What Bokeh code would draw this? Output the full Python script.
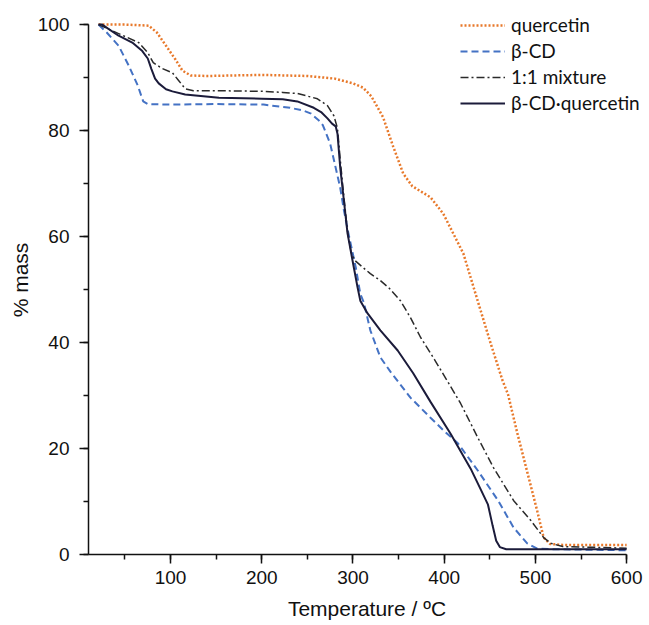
from bokeh.plotting import figure
from bokeh.models import Legend, LegendItem, SingleIntervalTicker, Range1d
from bokeh.embed import file_html
from bokeh.resources import INLINE

# ---- data ----
quercetin_T = [21, 50, 76, 85, 95, 105, 113, 122, 140, 200, 250, 280, 300, 311, 320, 333,
               344, 355, 365, 385, 399, 421, 440, 451, 464, 470, 480, 491, 502, 509, 516, 530, 600]
quercetin_mass = [100, 100, 99.8, 98.5, 96, 93.5, 91.3, 90.4, 90.3, 90.5, 90.3, 89.8, 88.9, 88.1, 86.5, 82.5,
                  77, 71.9, 69.5, 67.4, 64.3, 56.8, 46, 39.8, 32.8, 30.2, 23, 15.6, 8.2, 3.2, 2.0, 1.8, 1.8]

bcd_T = [21, 30, 43, 54, 64, 70, 75, 100, 150, 202, 231, 245, 254, 262, 267, 275, 281, 286, 290,
         295, 303, 308, 312, 319, 330, 341, 363, 385, 400, 415, 437, 459, 476, 491, 502, 520, 600]
bcd_mass = [100, 98.5, 96, 92.3, 88.5, 85.5, 85.0, 84.9, 85.0, 84.9, 84.3, 83.8, 83.2, 82, 81, 77.5, 73, 69.2, 65,
            60.6, 54.2, 49.2, 47.5, 42.3, 37.2, 34.5, 29.6, 25.8, 23.3, 21, 15.8, 10.2, 5.1, 2.1, 1.1, 1.0, 0.8]

mix_T = [21, 43, 65, 75, 81, 91, 102, 109, 116, 125, 160, 202, 223, 239, 261, 272, 279, 283, 286, 290,
         294, 298, 302, 310, 319, 330, 340, 352, 363, 374, 390, 405, 418, 437, 454, 476, 495, 509, 517, 530, 600]
mix_mass = [100, 98.3, 96.6, 94.7, 92.8, 91.7, 90.9, 89.4, 87.9, 87.5, 87.5, 87.4, 87.2, 87, 86, 84.7, 82.8, 80.4, 74.5, 67.5,
            61, 57, 55.5, 54.3, 53, 51.7, 50.2, 47.9, 44.7, 41, 36.6, 32.3, 28.5, 22, 16.4, 10.2, 6.4, 3.2, 2.1, 1.5, 1.2]

complex_T = [21, 25, 43, 58, 69, 75, 79, 83, 87, 95, 102, 116, 153, 200, 223, 239, 257, 265, 272, 277, 281, 283, 286,
             290, 294, 300, 305, 308, 316, 330, 349, 366, 385, 407, 429, 440, 448, 453, 457, 461, 468, 600]
complex_mass = [100, 100, 97.9, 96.6, 95, 93.6, 91.6, 89.8, 88.9, 87.8, 87.4, 86.8, 86.2, 86.0, 85.9, 85.5, 84.3, 83.5, 82.3, 81.3, 80.8, 79.4, 73,
                66.8, 60.6, 55, 50.4, 47.9, 45.5, 42.3, 38.5, 34.2, 28.8, 22.8, 16.2, 12.3, 9.4, 5.5, 2.6, 1.4, 1.0, 1.0]

labels = ["quercetin", "\u03b2-CD", "1:1 mixture", "\u03b2-CD\u00b7quercetin"]

# ---- figure ----
W, H = 645, 622
p = figure(width=W, height=H, output_backend="svg", toolbar_location=None,
           x_range=Range1d(10, 620.7), y_range=Range1d(0, 103.6),
           min_border_left=88, min_border_top=5, min_border_right=0, min_border_bottom=68)
p.outline_line_color = None
p.grid.visible = False
p.background_fill_color = "white"
p.border_fill_color = "white"

p.xaxis.ticker = SingleIntervalTicker(interval=100, num_minor_ticks=2)
p.yaxis.ticker = SingleIntervalTicker(interval=20, num_minor_ticks=2)
p.xaxis.bounds = (10, 600)
p.yaxis.bounds = (0, 100)

for ax in (p.xaxis, p.yaxis):
    ax.axis_line_color = "#111111"
    ax.axis_line_width = 1.5
    ax.major_tick_line_color = "#111111"
    ax.major_tick_line_width = 1.5
    ax.minor_tick_line_color = "#111111"
    ax.minor_tick_line_width = 1.5
    ax.major_tick_in = 0
    ax.major_tick_out = 9
    ax.minor_tick_in = 0
    ax.minor_tick_out = 5
    ax.major_label_text_font = "Liberation Sans"
    ax.major_label_text_font_size = "19px"
    ax.major_label_text_color = "#111111"
    ax.axis_label_text_font = "Liberation Sans"
    ax.axis_label_text_font_size = "21px"
    ax.axis_label_text_font_style = "normal"
    ax.axis_label_text_color = "#111111"

p.xaxis.axis_label = "Temperature / \u00baC"
p.yaxis.axis_label = "% mass"
p.xaxis.major_label_standoff = 7
p.yaxis.major_label_standoff = 10
p.xaxis.axis_label_standoff = 10
p.yaxis.axis_label_standoff = 3

r_q = p.line(quercetin_T, quercetin_mass, line_color="#E8792B", line_width=2.5, line_dash="2 2")
r_b = p.line(bcd_T, bcd_mass, line_color="#4472C4", line_width=2, line_dash="7 4")
r_m = p.line(mix_T, mix_mass, line_color="#2a2a2a", line_width=1.5, line_dash="8 3 2 3")
r_c = p.line(complex_T, complex_mass, line_color="#1b1b3a", line_width=2)

legend = Legend(items=[LegendItem(label=labels[0], renderers=[r_q]),
                       LegendItem(label=labels[1], renderers=[r_b]),
                       LegendItem(label=labels[2], renderers=[r_m]),
                       LegendItem(label=labels[3], renderers=[r_c])],
                location=(372, 440), border_line_color=None, background_fill_alpha=0,
                padding=0, margin=0, spacing=3, glyph_width=45, glyph_height=20,
                label_height=20, label_standoff=6,
                label_text_font="Lato", label_text_font_size="19px", label_text_color="#111111")
p.add_layout(legend)

open("out.html", "w").write(file_html(p, INLINE))
